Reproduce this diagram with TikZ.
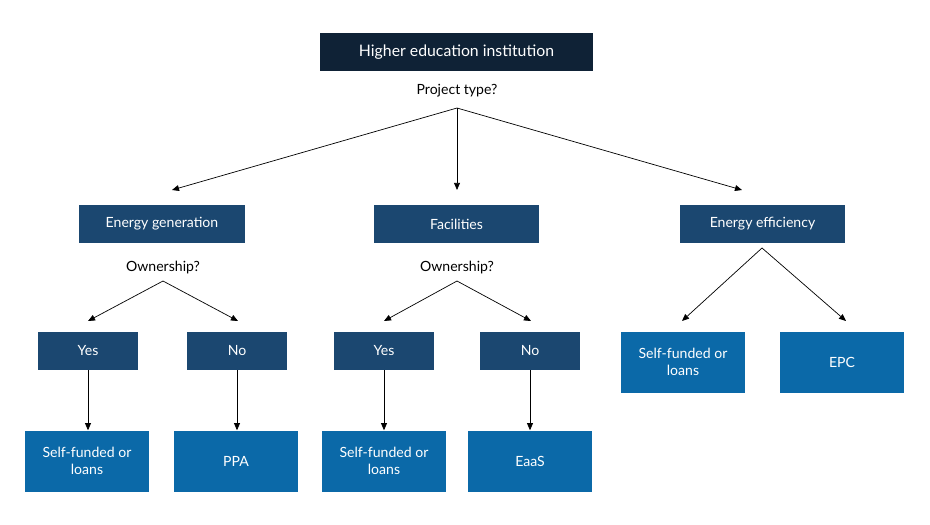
\documentclass[tikz,border=0pt]{standalone}
\usepackage{fontspec}
\setmainfont{Lato}
\usetikzlibrary{arrows.meta}
\definecolor{navy}{HTML}{0F2236}
\definecolor{midblue}{HTML}{1B4770}
\definecolor{lightblue}{HTML}{0B69A8}
\tikzset{
  topbox/.style={rectangle,fill=navy,text=white,minimum width=8.19cm,minimum height=1.14cm,font=\fontsize{13.5}{15}\selectfont},
  catbox/.style={rectangle,fill=midblue,text=white,minimum width=4.95cm,minimum height=1.14cm,font=\fontsize{12}{14}\selectfont},
  ynbox/.style={rectangle,fill=midblue,text=white,minimum width=3cm,minimum height=1.14cm,font=\fontsize{12}{14}\selectfont},
  endbox/.style={rectangle,fill=lightblue,text=white,minimum width=3.72cm,minimum height=1.83cm,align=center,font=\fontsize{12}{15}\selectfont},
  qtext/.style={font=\fontsize{12}{14}\selectfont},
  arr/.style={-{Triangle[length=6pt,width=5pt]},line width=0.6pt},
  ln/.style={line width=0.6pt}
}
\begin{document}
\begin{tikzpicture}[x=0.03cm,y=-0.03cm]
\useasboundingbox (0,0) rectangle (930,524);
\node[topbox] (hei) at (456.5,52) {Higher education institution};
\node[qtext] (ptype) at (457,91) {Project type?};
\node[catbox] (gen) at (162,224) {Energy generation};
\node[catbox] (fac) at (456.5,224) {Facilities};
\node[catbox] (eff) at (762.5,224) {Energy efficiency};
\coordinate (pt) at (457,108);
\draw[arr] (pt) -- (172,190);
\draw[arr] (pt) -- (457,190);
\draw[arr] (pt) -- (742,190);
% energy generation
\node[qtext] (own1) at (163,268) {Ownership?};
\node[ynbox] (yes1) at (88,351) {Yes};
\node[ynbox] (no1) at (237,351) {No};
\coordinate (o1) at (163,281);
\draw[arr] (o1) -- (88,321);
\draw[arr] (o1) -- (238,321);
\node[endbox] (self1) at (87,461) {Self-funded or\\loans};
\node[endbox] (ppa) at (236,461) {PPA};
\draw[arr] (yes1) -- (self1.north -| yes1);
\draw[arr] (no1) -- (ppa.north -| no1);
% facilities
\node[qtext] (own2) at (457,268) {Ownership?};
\node[ynbox] (yes2) at (384,351) {Yes};
\node[ynbox] (no2) at (530,351) {No};
\coordinate (o2) at (457,281);
\draw[arr] (o2) -- (384,321);
\draw[arr] (o2) -- (531,321);
\node[endbox] (self2) at (384,461) {Self-funded or\\loans};
\node[endbox] (eaas) at (530,461) {EaaS};
\draw[arr] (yes2) -- (self2.north -| yes2);
\draw[arr] (no2) -- (eaas.north -| no2);
% energy efficiency
\node[endbox] (self3) at (683,362) {Self-funded or\\loans};
\node[endbox] (epc) at (842,362) {EPC};
\coordinate (e1) at (762,248);
\draw[arr] (e1) -- (682,321);
\draw[arr] (e1) -- (846,321);
\end{tikzpicture}
\end{document}
